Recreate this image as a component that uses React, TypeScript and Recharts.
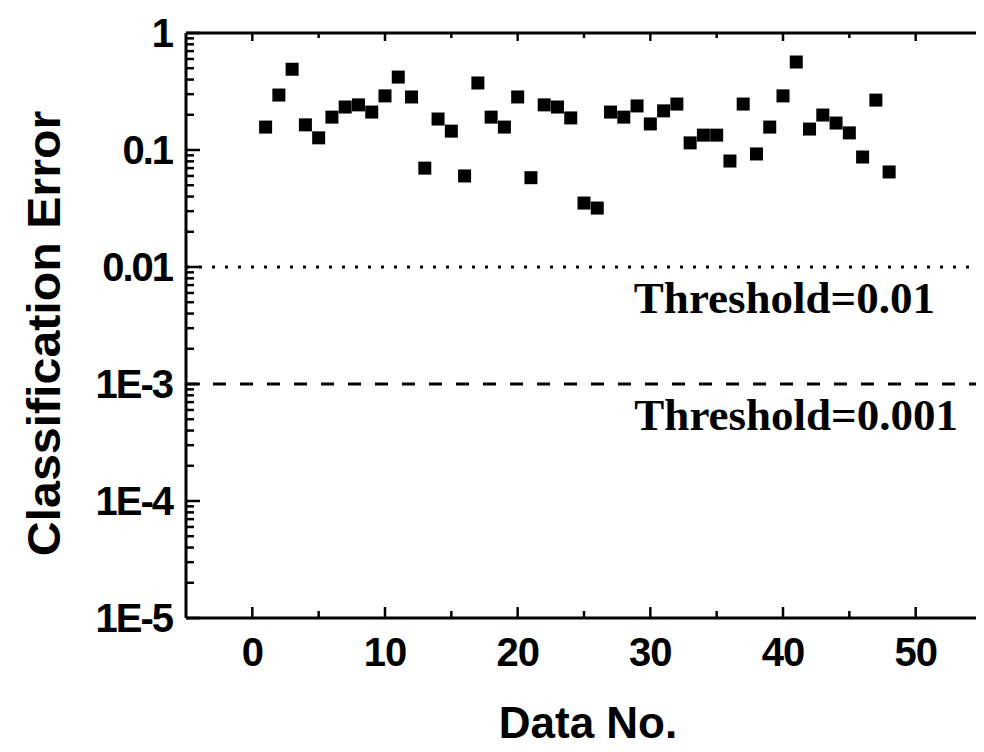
import React from "react";
import {
  ScatterChart,
  Scatter,
  XAxis,
  YAxis,
  ReferenceLine,
  Label,
} from "recharts";

const dataNo = [
  1, 2, 3, 4, 5, 6, 7, 8, 9, 10, 11, 12, 13, 14, 15, 16, 17, 18, 19, 20, 21, 22, 23, 24,
  25, 26, 27, 28, 29, 30, 31, 32, 33, 34, 35, 36, 37, 38, 39, 40, 41, 42, 43, 44, 45, 46, 47, 48,
];

const classError = [
  0.157, 0.295, 0.49, 0.164, 0.127, 0.191, 0.233, 0.243, 0.211, 0.29, 0.42, 0.284,
  0.07, 0.184, 0.145, 0.06, 0.374, 0.191, 0.157, 0.284, 0.058, 0.243, 0.233, 0.188,
  0.0352, 0.0319, 0.211, 0.191, 0.238, 0.167, 0.216, 0.247, 0.115, 0.134, 0.134, 0.0805,
  0.247, 0.0925, 0.157, 0.29, 0.565, 0.151, 0.199, 0.17, 0.14, 0.0871, 0.267, 0.0649,
];

const thresholds = [0.01, 0.001];
const thresholdLabels = ["Threshold=0.01", "Threshold=0.001"];

const xMajor = [0, 10, 20, 30, 40, 50];
const xMinor = [5, 15, 25, 35, 45];
const xTickLabels = ["0", "10", "20", "30", "40", "50"];

const yMajor = [1e-5, 1e-4, 1e-3, 0.01, 0.1, 1];
const yTickLabels = ["1E-5", "1E-4", "1E-3", "0.01", "0.1", "1"];
const yMinor = yMajor.slice(0, -1).flatMap((d) => [2, 3, 4, 5, 6, 7, 8, 9].map((m) => m * d));

const data = dataNo.map((n, i) => ({ n, err: classError[i] }));

const SANS = "'Liberation Sans', Arial, sans-serif";
const SERIF = "'Liberation Serif', 'Times New Roman', serif";
const AXIS = { stroke: "#000", strokeWidth: 3 };

const NoShape = () => null;

// ticks point into the plot, so the lines are drawn here instead of by tickLine
const YTick = (props: any) => {
  const { x, y, payload } = props;
  const idx = yMajor.indexOf(payload.value);
  const major = idx >= 0;
  return (
    <g>
      <line x1={x} y1={y} x2={x + (major ? 14 : 8)} y2={y} stroke="#000" strokeWidth={2.5} />
      {major && (
        <text
          x={x - 14}
          y={y}
          dy="0.36em"
          textAnchor="end"
          fontFamily={SANS}
          fontWeight="bold"
          fontSize={40}
          letterSpacing={-2}
          fill="#000"
        >
          {yTickLabels[idx]}
        </text>
      )}
    </g>
  );
};

const XTick = (props: any) => {
  const { x, y, payload } = props;
  const idx = xMajor.indexOf(payload.value);
  const major = idx >= 0;
  return (
    <g>
      <line x1={x} y1={y} x2={x} y2={y - (major ? 11 : 7)} stroke="#000" strokeWidth={2.5} />
      {major && (
        <text
          x={x}
          y={y + 48}
          textAnchor="middle"
          fontFamily={SANS}
          fontWeight="bold"
          fontSize={40}
          letterSpacing={-1}
          fill="#000"
        >
          {xTickLabels[idx]}
        </text>
      )}
    </g>
  );
};

const TopTick = (props: any) => {
  const { x, y, payload } = props;
  const major = xMajor.indexOf(payload.value) >= 0;
  return <line x1={x} y1={y} x2={x} y2={y + (major ? 8 : 5)} stroke="#000" strokeWidth={2.5} />;
};

const YLabel = (props: any) => {
  const { viewBox } = props;
  const cx = 52;
  const cy = viewBox.y + viewBox.height / 2 + 8;
  return (
    <text
      transform={`translate(${cx},${cy}) rotate(-90) scale(1.05,1)`}
      textAnchor="middle"
      fontFamily={SANS}
      fontWeight="bold"
      fontSize={46}
      fill="#000"
    >
      Classification Error
    </text>
  );
};

const XLabel = (props: any) => {
  const { viewBox } = props;
  return (
    <text
      x={viewBox.x + viewBox.width / 2 + 4}
      y={viewBox.y + viewBox.height - 14}
      textAnchor="middle"
      fontFamily={SANS}
      fontWeight="bold"
      fontSize={44}
      fill="#000"
    >
      Data No.
    </text>
  );
};

const thresholdLabel = (text: string, right: number) => (props: any) => {
  const { viewBox } = props;
  return (
    <text
      x={viewBox.x + viewBox.width - right}
      y={viewBox.y + 46}
      textAnchor="end"
      fontFamily={SERIF}
      fontWeight="bold"
      fontSize={45}
      fill="#000"
    >
      {text}
    </text>
  );
};

const Square = (props: any) => {
  const { cx, cy } = props;
  return <rect x={cx - 6.5} y={cy - 6.5} width={13} height={13} fill="#000" />;
};

export default function App() {
  return (
    <div style={{ width: 976, height: 744, background: "#fff" }}>
      <ScatterChart width={976} height={744} margin={{ top: 24, right: 0, bottom: 0, left: 0 }}>
        <XAxis
          xAxisId="b"
          dataKey="n"
          type="number"
          domain={[-5, 55]}
          ticks={[...xMajor, ...xMinor]}
          interval={0}
          tickSize={0}
          tickMargin={0}
          tickLine={false}
          tick={<XTick />}
          height={134}
          axisLine={AXIS}
          allowDataOverflow
        >
          <Label content={<XLabel />} />
        </XAxis>
        <XAxis
          xAxisId="t"
          dataKey="n"
          orientation="top"
          type="number"
          domain={[-5, 55]}
          ticks={[...xMajor, ...xMinor]}
          interval={0}
          tickSize={0}
          tickMargin={0}
          tickLine={false}
          tick={<TopTick />}
          height={1}
          axisLine={AXIS}
          allowDataOverflow
        />
        <YAxis
          yAxisId="l"
          dataKey="err"
          type="number"
          scale="log"
          domain={[1e-5, 1]}
          ticks={[...yMajor, ...yMinor]}
          interval={0}
          tickSize={0}
          tickMargin={0}
          tickLine={false}
          tick={<YTick />}
          width={178}
          axisLine={AXIS}
          allowDataOverflow
        >
          <Label content={<YLabel />} />
        </YAxis>
        <YAxis
          yAxisId="r"
          dataKey="err"
          orientation="right"
          type="number"
          scale="log"
          domain={[1e-5, 1]}
          tick={false}
          tickLine={false}
          width={2}
          axisLine={{ stroke: "#000", strokeWidth: 2 }}
          allowDataOverflow
        />
        {thresholds.map((t, i) => (
          <ReferenceLine
            key={t}
            xAxisId="b"
            yAxisId="l"
            y={t}
            stroke="#000"
            strokeWidth={3}
            strokeDasharray={i === 0 ? "3 10" : "13 14"}
            label={thresholdLabel(thresholdLabels[i], i === 0 ? 47 : 24)}
          />
        ))}
        {/* empty series so the top border axis gets a scale for its ticks */}
        <Scatter xAxisId="t" yAxisId="r" data={data} shape={NoShape} isAnimationActive={false} />
        <Scatter
          xAxisId="b"
          yAxisId="l"
          data={data}
          fill="#000"
          shape={<Square />}
          isAnimationActive={false}
        />
      </ScatterChart>
    </div>
  );
}
